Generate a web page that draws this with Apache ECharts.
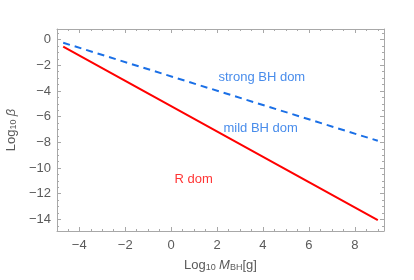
<!DOCTYPE html>
<html><head><meta charset="utf-8">
<script src="https://cdn.jsdelivr.net/npm/echarts@6/dist/echarts.min.js"></script>
<style>html,body{margin:0;padding:0;background:#fff}#c{width:414px;height:280px}</style>
</head><body><div id="c"></div>
<script>
const logM = [-4.7, 9];
const rLine = [-0.55, -14.06];
const bhLine = [-0.25, -7.88];
const xTicks = [-4, -2, 0, 2, 4, 6, 8];
const yTicks = [0, -2, -4, -6, -8, -10, -12, -14];
const labels = ['strong BH dom', 'mild BH dom', 'R dom'];
const labelX = [3.95, 3.9, 0.98];
const labelY = [-2.92, -6.9, -10.85];
const labelColors = ['#1a6fe6', '#1a6fe6', '#ff0000'];

const xMin = -4.97, xMax = 9.27, yMin = -14.9, yMax = 0.82;
const minorX = [], minorY = [];
for (let v = -4.5; v <= 9; v += 0.5) if (v % 2 !== 0) minorX.push(v);
for (let v = 0.5; v >= -14.5; v -= 0.5) if (v % 2 !== 0) minorY.push(v);

const font = 'Liberation Sans, Arial, sans-serif';
const lineCol = '#a8a8a8';
function xa(pos, ticks, len, showLabel, showLine) {
  return { type: 'value', min: xMin, max: xMax, position: pos,
    axisLine: { show: showLine, onZero: false, lineStyle: { color: lineCol, width: 1 } },
    axisTick: { show: true, inside: true, length: len, customValues: ticks, lineStyle: { color: lineCol } },
    axisLabel: { show: showLabel, customValues: ticks, color: '#5a5a5a', fontSize: 13, fontFamily: font, margin: 8,
      formatter: v => (v < 0 ? '\u2212' + (-v) : '' + v) },
    splitLine: { show: false } };
}
function ya(pos, ticks, len, showLabel, showLine) {
  return { type: 'value', min: yMin, max: yMax, position: pos,
    axisLine: { show: showLine, onZero: false, lineStyle: { color: lineCol, width: 1 } },
    axisTick: { show: true, inside: true, length: len, customValues: ticks, lineStyle: { color: lineCol } },
    axisLabel: { show: showLabel, customValues: ticks, color: '#5a5a5a', fontSize: 13, fontFamily: font, margin: 6,
      formatter: v => (v < 0 ? '\u2212' + (-v) : '' + v) },
    splitLine: { show: false } };
}
const xAxes = [xa('bottom', xTicks, 4, true, true), xa('bottom', minorX, 2, false, false),
  xa('top', xTicks, 4, false, true), xa('top', minorX, 2, false, false)];
const yAxes = [ya('left', yTicks, 4, true, true), ya('left', minorY, 2, false, false),
  ya('right', yTicks, 4, false, true), ya('right', minorY, 2, false, false)];

const rich = {
  a: { fontSize: 13, color: '#5a5a5a', fontFamily: font, verticalAlign: 'bottom', lineHeight: 16 },
  s: { fontSize: 9, color: '#5a5a5a', fontFamily: font, verticalAlign: 'bottom', lineHeight: 14 },
  i: { fontSize: 13, color: '#5a5a5a', fontFamily: font, fontStyle: 'italic', verticalAlign: 'bottom', lineHeight: 16 } };
xAxes[0].name = '{a|Log}{s|10} {i|M}{s|BH}{a|[g]}';
xAxes[0].nameLocation = 'middle';
xAxes[0].nameGap = 25;
xAxes[0].nameTextStyle = { rich };
yAxes[0].name = '{a|Log}{s|10} {i|\u03b2}';
yAxes[0].nameLocation = 'middle';
yAxes[0].nameGap = 31;
yAxes[0].nameRotate = 90;
yAxes[0].nameTextStyle = { rich };

const option = {
  animation: false,
  backgroundColor: '#fff',
  grid: { left: 57, right: 30, top: 29, bottom: 49, containLabel: false, outerBoundsMode: 'none' },
  xAxis: xAxes,
  yAxis: yAxes,
  series: [
    { type: 'line', xAxisIndex: 0, yAxisIndex: 0, showSymbol: false, symbol: 'none',
      data: logM.map((x, i) => [x, rLine[i]]), lineStyle: { color: '#ff0000', width: 2 } },
    { type: 'line', xAxisIndex: 0, yAxisIndex: 0, showSymbol: false, symbol: 'none',
      data: logM.map((x, i) => [x, bhLine[i]]), lineStyle: { color: '#1a6fe6', width: 2, type: [7, 5] } },
    { type: 'scatter', xAxisIndex: 0, yAxisIndex: 0, symbolSize: 0, silent: true,
      data: labels.map((t, i) => ({ value: [labelX[i], labelY[i]], name: t,
        label: { show: true, position: 'inside', formatter: t, color: labelColors[i], fontSize: 13, fontFamily: font } })) }
  ]
};
echarts.init(document.getElementById('c')).setOption(option);
</script></body></html>
